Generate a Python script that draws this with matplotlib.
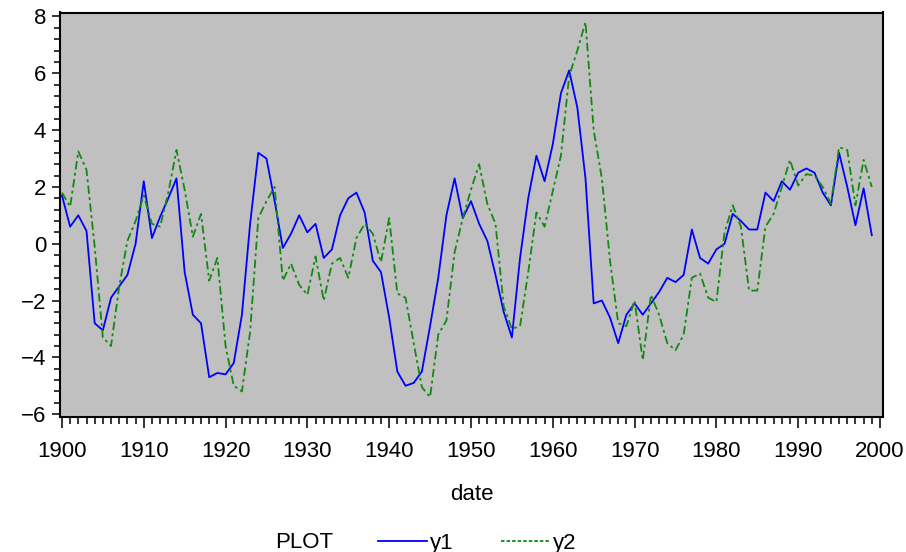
import matplotlib
matplotlib.use("Agg")
import matplotlib.pyplot as plt
import numpy as np
from matplotlib.ticker import MultipleLocator

years = list(range(1900, 2000))
y1 = [1.7, 0.6, 1.0, 0.45, -2.8, -3.05, -1.9, -1.5, -1.1, 0.0,
      2.2, 0.2, 0.95, 1.6, 2.3, -1.0, -2.5, -2.8, -4.7, -4.55,
      -4.6, -4.2, -2.5, 0.7, 3.2, 3.0, 1.5, -0.15, 0.35, 1.0,
      0.4, 0.7, -0.5, -0.2, 1.0, 1.6, 1.8, 1.1, -0.6, -1.0,
      -2.6, -4.5, -5.0, -4.9, -4.5, -2.9, -1.2, 1.0, 2.3, 0.9,
      1.5, 0.7, 0.1, -1.1, -2.4, -3.3, -0.5, 1.6, 3.1, 2.2,
      3.5, 5.3, 6.1, 4.8, 2.3, -2.1, -2.0, -2.6, -3.5, -2.5,
      -2.1, -2.5, -2.1, -1.7, -1.2, -1.35, -1.1, 0.5, -0.5, -0.7,
      -0.2, 0.0, 1.05, 0.8, 0.5, 0.5, 1.8, 1.5, 2.2, 1.9,
      2.5, 2.65, 2.5, 1.8, 1.35, 3.2, 2.0, 0.65, 1.95, 0.3]
y2 = [1.8, 1.3, 3.25, 2.6, -0.1, -3.3, -3.6, -1.5, 0.1, 0.8,
      1.7, 0.7, 0.6, 1.8, 3.3, 1.9, 0.25, 1.05, -1.3, -0.5,
      -3.6, -5.0, -5.2, -3.1, 0.9, 1.5, 2.0, -1.3, -0.7, -1.45,
      -1.8, -0.45, -2.0, -0.7, -0.5, -1.2, 0.2, 0.7, 0.35, -0.65,
      0.9, -1.75, -1.9, -3.5, -5.05, -5.4, -3.2, -2.7, -0.3, 0.9,
      1.9, 2.8, 1.4, 0.7, -2.2, -3.0, -2.9, -1.0, 1.1, 0.6,
      1.85, 3.1, 5.9, 6.8, 7.8, 4.0, 2.3, -0.6, -2.8, -2.9,
      -2.0, -4.1, -1.8, -2.5, -3.5, -3.75, -3.2, -1.2, -1.05, -1.9,
      -2.05, 0.4, 1.35, 0.6, -1.65, -1.65, 0.6, 1.05, 2.0, 2.95,
      2.05, 2.45, 2.4, 2.0, 1.4, 3.4, 3.3, 1.35, 2.95, 2.0]
series_names = ["y1", "y2"]
x_ticks = list(range(1900, 2001, 10))
y_ticks = list(range(-6, 9, 2))

plt.rcParams['font.family'] = ['Liberation Sans', 'DejaVu Sans']
plt.rcParams['lines.scale_dashes'] = False

W, H = 906, 552
fig = plt.figure(figsize=(W / 100, H / 100), dpi=100)
ax = fig.add_axes([60 / W, 1 - 417 / H, (883 - 60) / W, (417 - 12.5) / H])
ax.set_facecolor('#c0c0c0')

l1, = ax.plot(years, y1, color='#0000ff', lw=1.3, label=series_names[0])
l2, = ax.plot(years, y2, color='#108a10', lw=1.3, dashes=(6, 2.5, 2, 2.5), label=series_names[1])

ax.set_xlim(1899.76, 2000.37)
ax.set_ylim(-6.1, 8.14)
ax.set_xticks(x_ticks)
ax.set_yticks(y_ticks)
ax.xaxis.set_minor_locator(MultipleLocator(1))
ax.yaxis.set_minor_locator(MultipleLocator(0.4))
ax.tick_params(axis='both', which='both', direction='out', color='black', width=1.1)
ax.tick_params(axis='x', which='major', length=8, pad=9, labelsize=16)
ax.tick_params(axis='x', which='minor', length=5)
ax.tick_params(axis='y', which='major', length=6, pad=4, labelsize=16)
ax.tick_params(axis='y', which='minor', length=4)
for s in ax.spines.values():
    s.set_linewidth(1.5)
    s.set_color('black')

ax.set_xlabel('date', fontsize=16, labelpad=16)

fig.text(275 / W, 1 - 543 / H, 'PLOT', fontsize=16, ha='left', va='center')
leg = fig.legend(handles=[l1, l2], labels=series_names, loc='center left',
                 bbox_to_anchor=(378 / W, 1 - 543 / H), ncol=2, frameon=False,
                 fontsize=16, handlelength=2.2, handletextpad=0.15,
                 columnspacing=2.1, borderpad=0, borderaxespad=0)
leg.legend_handles[1].set_dashes((2.5, 1.5))

fig.savefig('out.png', dpi=100)
